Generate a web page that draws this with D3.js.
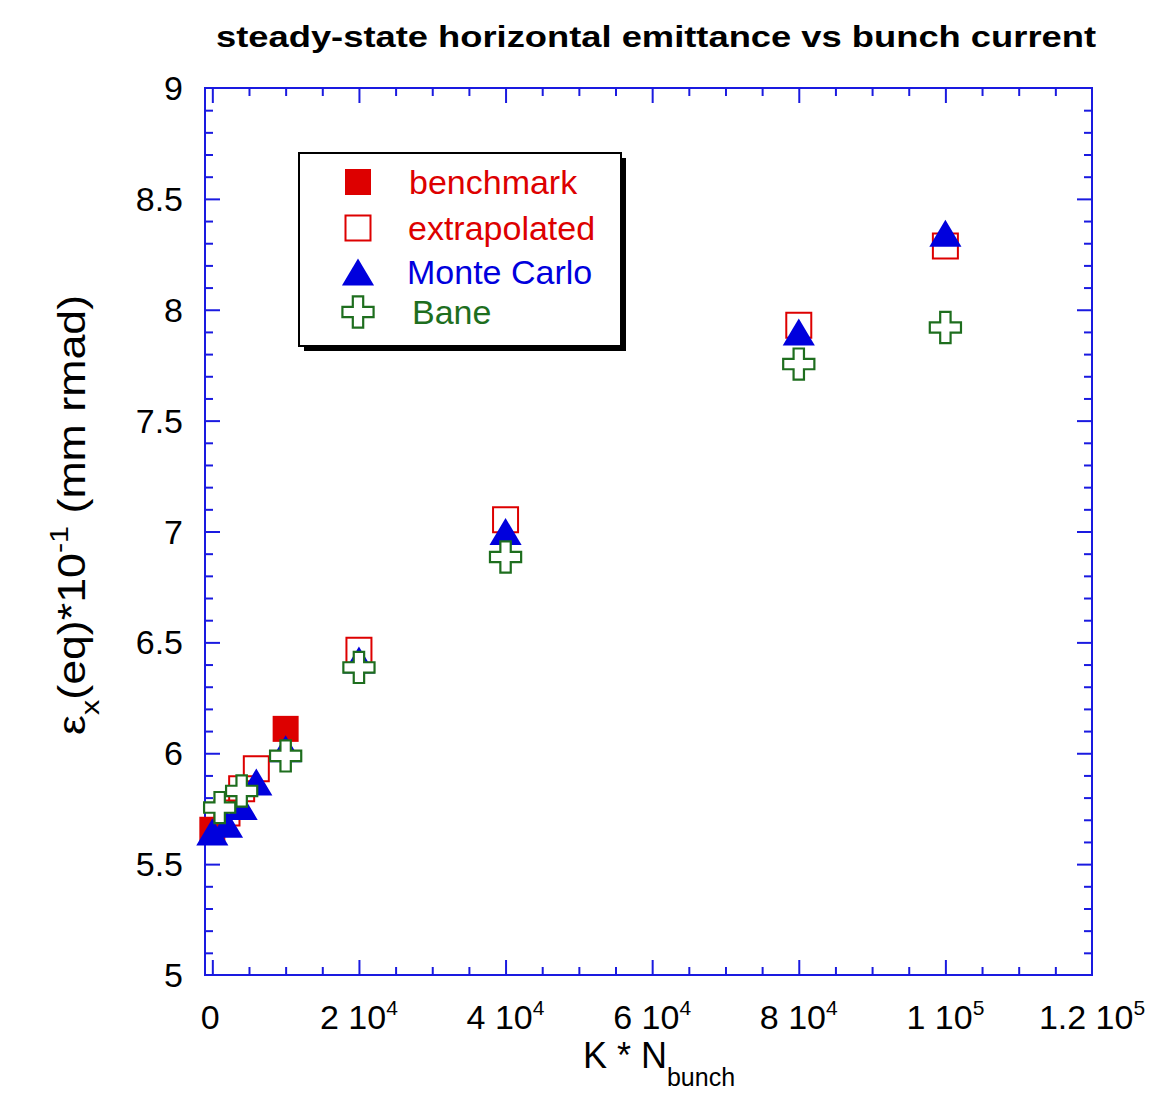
<!DOCTYPE html>
<html lang="en">
<head>
<meta charset="UTF-8">
<title>steady-state horizontal emittance vs bunch current</title>
<script src="https://d3js.org/d3.v7.min.js"></script>
<style>
  body { margin: 0; background: #fff; }
  text { font-family: "Liberation Sans", Arial, sans-serif; }
</style>
</head>
<body>
<script>
// data (x = K * N_bunch, y = emittance)
var benchmarkX = [0, 10000];
var benchmarkY = [5.655, 6.11];

var extrapX = [2000, 4000, 6000, 20000, 40000, 80000, 100000];
var extrapY = [5.73, 5.84, 5.93, 6.465, 7.053, 7.93, 8.287];

var monteX = [0, 2000, 4000, 6000, 10000, 20000, 40000, 80000, 100000];
var monteY = [5.645, 5.68, 5.76, 5.87, 6.02, 6.42, 7.0, 7.90, 8.345];

var baneX = [1000, 4000, 10000, 20000, 40000, 80000, 100000];
var baneY = [5.755, 5.83, 5.988, 6.387, 6.885, 7.755, 7.92];

var xTicks = [0, 20000, 40000, 60000, 80000, 100000, 120000];
var xTickMant = ["0", "2", "4", "6", "8", "1", "1.2"];
var xTickExp = ["", "4", "4", "4", "4", "5", "5"];
var yTicks = [5, 5.5, 6, 6.5, 7, 7.5, 8, 8.5, 9];

var legendNames = ["benchmark", "extrapolated", "Monte Carlo", "Bane"];

var W = 1153, H = 1105;
var pLeft = 205, pRight = 1092, pTop = 88, pBottom = 975;
var red = "#dd0000", blue = "#0000dd", green = "#1e6e1e", frame = "#1a1ae0";

var svg = d3.select("body").append("svg")
    .attr("width", W).attr("height", H);
svg.append("rect").attr("width", W).attr("height", H).attr("fill", "#fff");

var x = d3.scaleLinear().domain([-1000, 120000]).range([pLeft, pRight]);
var y = d3.scaleLinear().domain([5, 9]).range([pBottom, pTop]);

// title
svg.append("text")
    .attr("x", 656).attr("y", 47)
    .attr("text-anchor", "middle")
    .attr("font-size", 30).attr("font-weight", "bold")
    .attr("textLength", 880).attr("lengthAdjust", "spacingAndGlyphs")
    .text("steady-state horizontal emittance vs bunch current");

// frame
svg.append("rect")
    .attr("x", pLeft).attr("y", pTop)
    .attr("width", pRight - pLeft).attr("height", pBottom - pTop)
    .attr("fill", "none").attr("stroke", frame).attr("stroke-width", 2);

// ticks, inward on all four sides
var xMinor = d3.range(5000, 120000, 5000).filter(function(v) { return v % 20000 != 0; });
var yMinor = d3.range(5.1, 9, 0.1).filter(function(v) { return Math.abs(v * 2 - Math.round(v * 2)) > 0.01; });

var axes = svg.append("g");
function addAxis(axis, tr, vals, len) {
  axes.append("g").attr("transform", tr)
    .call(axis.tickValues(vals).tickSize(len).tickFormat(""))
    .call(function(g) {
      g.select(".domain").remove();
      g.selectAll("line").attr("stroke", frame).attr("stroke-width", 2);
    });
}
[[xTicks.slice(0, 6), 15], [xMinor, 8]].forEach(function(s) {
  addAxis(d3.axisTop(x), "translate(0," + pBottom + ")", s[0], s[1]);
  addAxis(d3.axisBottom(x), "translate(0," + pTop + ")", s[0], s[1]);
});
[[yTicks.slice(1, 8), 15], [yMinor, 8]].forEach(function(s) {
  addAxis(d3.axisRight(y), "translate(" + pLeft + ",0)", s[0], s[1]);
  addAxis(d3.axisLeft(y), "translate(" + pRight + ",0)", s[0], s[1]);
});

// y tick labels
svg.append("g").selectAll("text").data(yTicks).join("text")
    .attr("x", 183).attr("y", function(d) { return y(d) + 12; })
    .attr("text-anchor", "end").attr("font-size", 34)
    .text(function(d) { return d; });

// x tick labels with exponents
var xl = svg.append("g").selectAll("text").data(xTicks).join("text")
    .attr("x", function(d, i) { return x(d) + (i == 0 ? -2 : 0); }).attr("y", 1029)
    .attr("text-anchor", "middle").attr("font-size", 34);
xl.append("tspan").text(function(d, i) { return i == 0 ? "0" : xTickMant[i] + " 10"; });
xl.append("tspan").attr("dy", -14).attr("font-size", 21)
    .text(function(d, i) { return xTickExp[i]; });

// axis titles
var xt = svg.append("text").attr("x", 659).attr("y", 1068)
    .attr("text-anchor", "middle").attr("font-size", 36);
xt.append("tspan").text("K * N");
xt.append("tspan").attr("dy", 18).attr("font-size", 25).text("bunch");

var yt = svg.append("text")
    .attr("transform", "translate(85,515) rotate(-90)")
    .attr("text-anchor", "middle").attr("font-size", 38)
    .attr("textLength", 440).attr("lengthAdjust", "spacingAndGlyphs");
yt.append("tspan").text("\u03b5");
yt.append("tspan").attr("dy", 14).attr("font-size", 26).text("x");
yt.append("tspan").attr("dy", -14).text("(eq)*10");
yt.append("tspan").attr("dy", -17).attr("font-size", 26).text("-1");
yt.append("tspan").attr("dy", 17).text(" (mm rmad)");

// marker shapes
var triType = { draw: function(ctx, size) {
  var w = Math.sqrt(size) * 1.19, h = Math.sqrt(size);
  ctx.moveTo(0, -h / 2); ctx.lineTo(w / 2, h / 2); ctx.lineTo(-w / 2, h / 2); ctx.closePath();
} };
var square = d3.symbol(d3.symbolSquare, 26 * 26);
var openSquare = d3.symbol(d3.symbolSquare, 25 * 25);
var tri = d3.symbol(triType, 27 * 27);
var cross = d3.symbol(d3.symbolCross, 540);

function toPts(xs, ys) { return xs.map(function(v, i) { return [v, ys[i]]; }); }
var styles = [
  { pts: toPts(benchmarkX, benchmarkY), path: square(), fill: red, stroke: "none", sw: 0 },
  { pts: toPts(extrapX, extrapY), path: openSquare(), fill: "none", stroke: red, sw: 2 },
  { pts: toPts(monteX, monteY), path: tri(), fill: blue, stroke: "none", sw: 0 },
  { pts: toPts(baneX, baneY), path: cross(), fill: "#fff", stroke: green, sw: 2.2 }
];

var plot = svg.append("g");
styles.forEach(function(s) {
  plot.selectAll(null).data(s.pts).join("path")
      .attr("d", s.path)
      .attr("transform", function(d) { return "translate(" + x(d[0]) + "," + y(d[1]) + ")"; })
      .attr("fill", s.fill).attr("stroke", s.stroke).attr("stroke-width", s.sw);
});

// legend with drop shadow
var lg = svg.append("g");
lg.append("rect").attr("x", 304).attr("y", 158).attr("width", 322).attr("height", 193).attr("fill", "#000");
lg.append("rect").attr("x", 299).attr("y", 153).attr("width", 322).attr("height", 193)
    .attr("fill", "#fff").attr("stroke", "#000").attr("stroke-width", 2);
var legendY = [182, 228, 272, 312];
var legendTextX = [409, 408, 407, 412];
var legendColor = [red, red, blue, green];
styles.forEach(function(s, i) {
  lg.append("path").attr("d", s.path)
      .attr("transform", "translate(358," + legendY[i] + ")")
      .attr("fill", s.fill == "none" ? "#fff" : s.fill)
      .attr("stroke", s.stroke).attr("stroke-width", s.sw);
  lg.append("text").attr("x", legendTextX[i]).attr("y", legendY[i] + 12)
      .attr("font-size", 34).attr("fill", legendColor[i])
      .text(legendNames[i]);
});
</script>
</body>
</html>
